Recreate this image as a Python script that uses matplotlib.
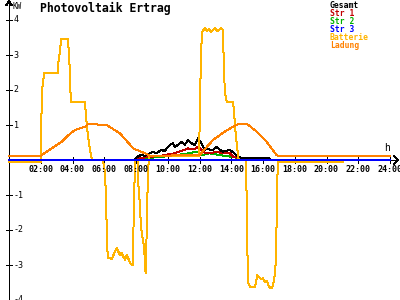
import numpy as np
import matplotlib
matplotlib.use('Agg')
import matplotlib.pyplot as plt

# hours of day and kW values
bat_h = [0, 2.0, 2.06, 2.11, 2.14, 2.2, 2.24, 3.09, 3.11, 3.21, 3.28, 3.72, 3.75, 3.84, 3.89,
         4.79, 4.82, 4.91, 5.04, 5.17, 5.25, 5.92, 5.98, 6.05, 6.11, 6.17, 6.22, 6.47, 6.55,
         6.68, 6.78, 6.87, 6.99, 7.09, 7.18, 7.31, 7.43, 7.62, 7.81, 7.87, 7.97, 8.11, 8.14,
         8.25, 8.31, 8.4, 8.52, 8.57, 8.63, 8.67, 8.72, 8.76, 8.82, 11.97, 12.03, 12.09, 12.16,
         12.22, 12.35, 12.47, 12.6, 12.72, 12.85, 12.98, 13.1, 13.23, 13.35, 13.48, 13.54,
         13.61, 13.71, 14.11, 14.17, 14.24, 14.34, 14.43, 14.49, 14.93, 14.97, 15.01, 15.07,
         15.18, 15.5, 15.64, 15.75, 15.87, 16.0, 16.13, 16.25, 16.35, 16.44, 16.57, 16.71,
         16.79, 16.86, 16.9, 16.92, 21.04, 21.07, 24.0]
bat_kw = [-0.05, -0.05, 1.7, 2.1, 2.14, 2.49, 2.49, 2.49, 2.8, 3.1, 3.45, 3.45, 3.2, 2.5, 1.67,
          1.67, 1.43, 0.95, 0.48, 0.1, 0.0, 0.0, -0.19, -0.37, -1.14, -2.19, -2.8, -2.82, -2.75,
          -2.6, -2.52, -2.6, -2.72, -2.65, -2.75, -2.85, -2.7, -2.95, -3.0, -1.0, 0.0, 0.0, -0.67,
          -1.3, -1.9, -2.2, -2.5, -3.15, -3.23, -2.0, -1.0, -0.3, 0.1, 0.1, 1.5, 3.0, 3.65,
          3.7, 3.77, 3.68, 3.75, 3.66, 3.72, 3.77, 3.68, 3.72, 3.77, 3.72, 2.5,
          1.9, 1.67, 1.67, 1.4, 0.95, 0.5, 0.1, 0.0, 0.0, -1.14, -2.48, -3.52,
          -3.62, -3.62, -3.29, -3.35, -3.4, -3.38, -3.5, -3.45, -3.58, -3.65, -3.67, -3.4,
          -3.0, -1.76, -1.14, -0.07, -0.07, 0.0, 0.0]

lad_h = [0, 2.0, 2.06, 2.69, 3.32, 3.74, 4.16, 4.79, 5.0, 6.15, 6.99, 7.83, 8.04, 8.57, 8.88,
         12.0, 12.85, 13.46, 14.09, 14.5, 15.0, 15.6, 16.23, 16.86, 17.0, 24.0]
lad_kw = [0.11, 0.11, 0.14, 0.33, 0.52, 0.71, 0.86, 0.95, 1.03, 1.0, 0.76, 0.33, 0.29, 0.19, 0.12,
          0.14, 0.57, 0.77, 0.95, 1.03, 1.03, 0.81, 0.52, 0.14, 0.11, 0.11]

ges_h = [0, 7.9, 8.03, 8.35, 8.55, 8.87, 9.08, 9.29, 9.6, 9.81, 9.92, 10.13, 10.33, 10.44, 10.65,
         10.86, 11.07, 11.28, 11.49, 11.7, 11.91, 12.12, 12.33, 12.52, 12.64, 12.85, 13.06, 13.27,
         13.48, 13.69, 13.9, 14.21, 14.42, 14.6, 16.4, 16.5, 24.0]
ges_kw = [0, 0, 0.08, 0.15, 0.12, 0.19, 0.24, 0.19, 0.29, 0.25, 0.33, 0.43, 0.48, 0.38, 0.43,
          0.52, 0.43, 0.57, 0.48, 0.43, 0.62, 0.48, 0.29, 0.33, 0.3, 0.29, 0.38, 0.29,
          0.24, 0.26, 0.29, 0.19, 0.1, 0.06, 0.05, 0.0, 0.0]

str1_h = [0, 7.95, 8.1, 9.08, 9.6, 10.13, 10.4, 10.7, 11.07, 11.28, 11.5, 11.75, 11.91, 12.12,
          12.4, 12.75, 13.06, 13.5, 13.9, 14.11, 14.4, 15.3, 15.5, 24.0]
str1_kw = [0, 0, 0.05, 0.1, 0.12, 0.17, 0.19, 0.24, 0.29, 0.33, 0.3, 0.33, 0.38, 0.29,
           0.19, 0.2, 0.24, 0.19, 0.19, 0.1, 0.06, 0.05, 0.0, 0.0]

str2_h = [0, 7.95, 8.1, 9.5, 10.13, 10.5, 11.07, 11.28, 11.9, 12.2, 12.6, 12.9, 13.27, 13.9,
          14.2, 14.4, 15.2, 15.3, 24.0]
str2_kw = [0, 0, 0.05, 0.08, 0.12, 0.14, 0.17, 0.19, 0.24, 0.14, 0.19, 0.17, 0.14, 0.1,
           0.08, 0.05, 0.05, 0.0, 0.0]

str3_h = [0, 24.0]
str3_kw = [0, 0]

x_ticks = list(range(2, 25, 2))
x_labels = ['%02d:00' % h for h in x_ticks]
y_ticks = [-4, -3, -2, -1, 1, 2, 3, 4]

legend_names = ['Gesamt', 'Str 1', 'Str 2', 'Str 3', 'Batterie', 'Ladung']
colors = ['#000000', '#c00000', '#00b000', '#0000ff', '#ffb400', '#ff8000']

mono = 'DejaVu Sans Mono'
plt.rcParams['lines.antialiased'] = False
lw = 0.72  # one pixel

fig = plt.figure(figsize=(4, 3), dpi=100)
ax = fig.add_axes([0, 0, 1, 1])
ax.axis('off')
# 15.875 px per hour, 35 px per kW
ax.set_xlim(-9 / 15.875, 391 / 15.875)
ax.set_ylim(-140 / 35, 160 / 35)

# axes with arrows
ax.plot([0, 0], [-4.1, 4.52], color='black', lw=lw)
ax.plot([-0.17, 0, 0.17], [4.42, 4.54, 4.42], color='black', lw=lw)
ax.plot([0, 24.5], [0, 0], color='black', lw=lw)
ax.plot([24.27, 24.5, 24.27], [0.11, 0, -0.11], color='black', lw=lw)
for t in y_ticks:
    ax.plot([-0.16, 0.16], [t, t], color='black', lw=lw)
    ax.text(0.3, t, str(t), fontsize=6, family=mono, ha='left', va='center')
for t, lab in zip(x_ticks, x_labels):
    ax.plot([t, t], [-0.09, 0.09], color='black', lw=lw)
    ax.text(t, -0.13, lab, fontsize=6, family=mono, fontweight='bold', ha='center', va='top')
ax.text(0.25, 4.52, 'KW', fontsize=5.5, family=mono, ha='left', va='top')
ax.text(23.8, 0.2, 'h', fontsize=7, family=mono, ha='center', va='bottom')

# data lines
ax.plot(str2_h, str2_kw, color=colors[2], lw=lw)
ax.plot(str1_h, str1_kw, color=colors[1], lw=lw)
ax.plot(ges_h, ges_kw, color=colors[0], lw=lw)
ax.plot(bat_h, bat_kw, color=colors[4], lw=lw)
ax.plot(str3_h, str3_kw, color=colors[3], lw=2 * lw)
ax.plot(lad_h, lad_kw, color=colors[5], lw=lw)

fig.text(40 / 400, 1 - 2 / 300, 'Photovoltaik Ertrag', fontsize=8.3, family=mono,
         fontweight='bold', ha='left', va='top')
for i, (name, c) in enumerate(zip(legend_names, colors)):
    fig.text(330 / 400, 1 - (1 + 8 * i) / 300, name, fontsize=5.8, family=mono,
             fontweight='bold', color=c, ha='left', va='top')

fig.savefig('out.png', dpi=100)
